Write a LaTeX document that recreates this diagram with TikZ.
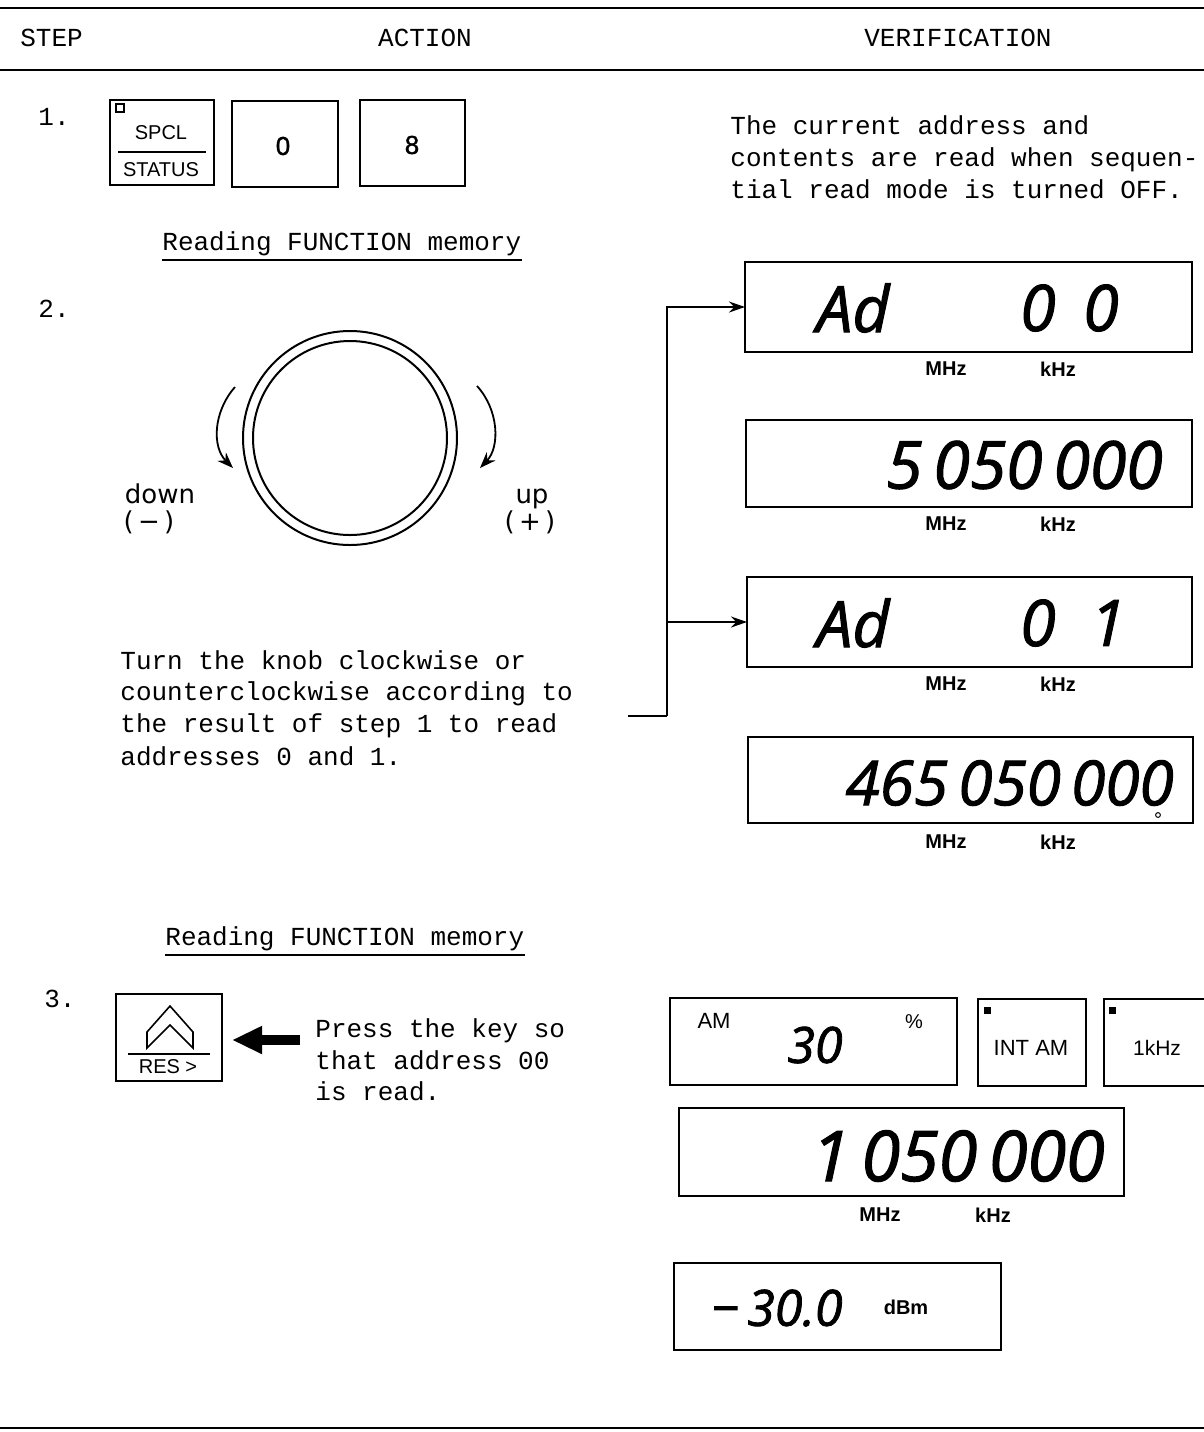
\documentclass[tikz,border=0pt]{standalone}
\usepackage{fontspec}
\setmainfont{Liberation Serif}
\setmonofont{Liberation Mono}
\newfontfamily\lsans{Liberation Sans}
\newfontfamily\dsans{DejaVu Sans}
\newfontfamily\osans{Open Sans}[ItalicFeatures={FakeBold=1.6}]
\newfontfamily\keyfont{Liberation Sans}[FakeBold=1.2]
\usetikzlibrary{arrows.meta,calc}
\tikzset{
  mono/.style={font=\ttfamily\fontsize{13}{16}\selectfont, inner sep=0pt, anchor=base west},
  monoc/.style={font=\ttfamily\fontsize{13}{16}\selectfont, inner sep=0pt, anchor=base},
  keybox/.style={draw, line width=0.9pt, inner sep=0pt, outer sep=0pt},
  dispbox/.style={draw, line width=1pt, inner sep=0pt, outer sep=0pt},
  disp/.style={font=\osans\itshape\fontsize{#1}{#1}\selectfont, inner sep=0pt},
  unit/.style={font=\lsans\bfseries\fontsize{10}{12}\selectfont, inner sep=0pt},
  lbl/.style={font=\lsans\fontsize{#1}{#1}\selectfont, inner sep=0pt},
  keydigit/.style={font=\keyfont\fontsize{13}{13}\selectfont, inner sep=0pt},
  knoblbl/.style={font=\dsans\fontsize{13}{15}\selectfont, inner sep=0pt, anchor=base},
  conn/.style={line width=0.9pt, -{Stealth[length=8pt,width=5.5pt]}},
  knobarrow/.style={line width=0.9pt, -{Stealth[length=8pt,width=6pt]}},
  rule/.style={line width=1.4pt},
}
\begin{document}
\begin{tikzpicture}[x=0.5pt,y=-0.5pt]
\useasboundingbox (0,0) rectangle (1204,1432);
\fill[white] (0,0) rectangle (1204,1432);
\clip (0,0) rectangle (1204,1432);

% header rules and titles
\draw[rule] (0,8) -- (1204,8);
\draw[rule] (0,70) -- (1204,70);
\draw[rule] (0,1428) -- (1204,1428);
\node[mono] (hstep) at (20,46) {STEP};
\node[monoc] (haction) at (425,46) {ACTION};
\node[monoc] (hverif) at (958,46) {VERIFICATION};

% ---------- step 1
\node[mono] (s1) at (38,125) {1.};
\node[keybox, minimum width=52pt, minimum height=42.5pt] (kspcl) at (162,142.5) {};
\draw[line width=0.7pt] (116,104) rectangle (124,112);
\node[lbl=10] (tspcl) at (161,133) {SPCL};
\draw[line width=0.9pt] (118,152) -- (206,152);
\node[lbl=10] (tstatus) at (161,170) {STATUS};
\node[keybox, minimum width=53pt, minimum height=43pt] (k0) at (285,144) {};
\node[keydigit] (t0) at (283,146) {0};
\node[keybox, minimum width=52.5pt, minimum height=43pt] (k8) at (412.5,143) {};
\node[keydigit] (t8) at (412,145) {8};

\node[mono] (v1) at (730,134) {The current address and};
\node[mono] (v2) at (730,166) {contents are read when sequen-};
\node[mono] (v3) at (730,198) {tial read mode is turned OFF.};

\node[mono] (r1) at (162,250) {Reading FUNCTION memory};
\draw[line width=0.8pt] ([yshift=-2pt]r1.south west) -- ([yshift=-2pt]r1.south east);

% ---------- step 2
\node[mono] (s2) at (38,317) {2.};
\node[circle, draw, line width=1pt, minimum size=107pt, inner sep=0pt] (knobo) at (350,438) {};
\node[circle, draw, line width=1pt, minimum size=97pt, inner sep=0pt] (knobi) at (350,438) {};
\draw[knobarrow] (235,387) .. controls (213,412) and (212,447) .. (233,468);
\draw[knobarrow] (477,386) .. controls (499,410) and (500,447) .. (480,468);
\node[knoblbl] (down) at (160,503) {down};
\node[knoblbl] (minus) at (149,530) {(\,−\,)};
\node[knoblbl] (up) at (532,503) {up};
\node[knoblbl] (plus) at (530,530) {(\,+\,)};

\node[mono] (tk1) at (120,669) {Turn the knob clockwise or};
\node[mono] (tk2) at (120,700) {counterclockwise according to};
\node[mono] (tk3) at (120,732) {the result of step 1 to read};
\node[mono] (tk4) at (120,765) {addresses 0 and 1.};

% displays
\node[dispbox, minimum width=223.5pt, minimum height=45pt] (d1) at (968.5,307) {};
\node[disp=32] (d1a) at (853,308) {Ad};
\node[disp=32] (d1b) at (1038,308) {0};
\node[disp=32] (d1c) at (1101,308) {0};
\node[unit] (d1m) at (946,369) {MHz};
\node[unit] (d1k) at (1058,369) {kHz};

\node[dispbox, minimum width=223pt, minimum height=43.5pt] (d2) at (969,463.5) {};
\node[disp=33, anchor=east] (d2a) at (1163,465) {5\,050\,000};
\node[unit] (d2m) at (946,524) {MHz};
\node[unit] (d2k) at (1058,524) {kHz};

\node[dispbox, minimum width=222.5pt, minimum height=45pt] (d3) at (969.5,622) {};
\node[disp=32] (d3a) at (853,623) {Ad};
\node[disp=32] (d3b) at (1038,623) {0};
\node[disp=32] (d3c) at (1108,623) {1};
\node[unit] (d3m) at (946,684) {MHz};
\node[unit] (d3k) at (1058,684) {kHz};

\node[dispbox, minimum width=222.5pt, minimum height=43pt] (d4) at (970.5,780) {};
\node[disp=31, anchor=east] (d4a) at (1174,783) {465\,050\,000};
\draw[line width=0.5pt] (1158,815) circle (1.2pt);
\node[unit] (d4m) at (946,842) {MHz};
\node[unit] (d4k) at (1058,842) {kHz};

% connector
\coordinate (c0) at (628,716);
\coordinate (cj) at (667,716);
\draw[line width=0.9pt] (c0) -- (cj);
\draw[conn] (cj) |- (d1.west);
\draw[conn] (cj |- d3.west) -- (d3.west);

% ---------- step 3
\node[mono] (r2) at (165,945) {Reading FUNCTION memory};
\draw[line width=0.8pt] ([yshift=-2pt]r2.south west) -- ([yshift=-2pt]r2.south east);

\node[mono] (s3) at (44,1007) {3.};
\node[keybox, minimum width=53pt, minimum height=43.5pt] (res) at (169,1037.5) {};
\draw[line width=0.8pt, line join=miter] (147,1032) -- (170,1006) -- (193,1032) -- (193,1048) -- (170,1025) -- (147,1048) -- cycle;
\draw[line width=0.9pt] (128,1054) -- (210,1054);
\node[lbl=10] (tres) at (168,1067) {RES >};
\coordinate (pa) at (300,1040);
\draw[line width=5pt, -{Triangle[length=15pt,width=13pt]}, shorten >=5pt] (pa) -- (res.east |- pa);
\node[mono] (p1) at (315,1037) {Press the key so};
\node[mono] (p2) at (315,1069) {that address 00};
\node[mono] (p3) at (315,1100) {is read.};

\node[dispbox, minimum width=143.5pt, minimum height=43.5pt] (am) at (813.5,1041.5) {};
\node[lbl=11] (tam) at (714,1021) {AM};
\node[disp=25] (t30) at (815,1045) {30};
\node[lbl=10] (tpct) at (914,1022) {\%};
\node[dispbox, minimum width=54pt, minimum height=43.5pt] (intam) at (1032,1042.5) {};
\fill (984,1007) rectangle (991,1014);
\node[lbl=11] (tintam) at (1031,1048) {INT AM};
\node[dispbox, minimum width=53pt, minimum height=43.5pt] (khzb) at (1157,1042.5) {};
\fill (1109,1007) rectangle (1116,1014);
\node[lbl=10.5] (tkhz) at (1157,1048) {1kHz};

\node[dispbox, minimum width=222.5pt, minimum height=44pt] (big) at (901.5,1152) {};
\node[disp=35, anchor=east] (tbig) at (1105,1156) {1\,050\,000};
\node[unit] (bm) at (880,1215) {MHz};
\node[unit] (bk) at (993,1215) {kHz};

\node[dispbox, minimum width=163.5pt, minimum height=43.5pt] (dbm) at (837.5,1306.5) {};
\node[disp=25, anchor=west] (tlev) at (711,1308) {−\,30.0};
\node[unit] (tdbm) at (906,1307) {dBm};
\end{tikzpicture}
\end{document}
